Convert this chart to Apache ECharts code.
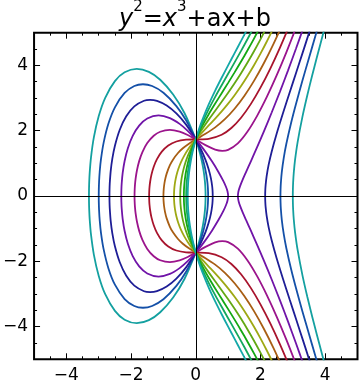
<!DOCTYPE html>
<html>
<head>
<meta charset="utf-8">
<script src="https://cdn.jsdelivr.net/npm/echarts@6/dist/echarts.min.js"></script>
<style>html,body{margin:0;padding:0;background:#fff}#c{width:360px;height:388px}</style>
</head>
<body>
<div id="c"></div>
<script>
// parameter a for each curve (b = 3)
const aValues = [-10, -8, -6, -4, -2, 0, 2, 4, 6, 8, 10, 12];
const curveColors = ['#14A0A0', '#1450A8', '#1E1E96', '#7014A8', '#9B148C', '#A8142D',
                     '#A85E14', '#9EA814', '#63A814', '#14A814', '#14A85E', '#14A8A8'];
const xTickLabels = [-4, -2, 0, 2, 4];
const yTickLabels = [-4, -2, 0, 2, 4];

// upper halves (y >= 0); curves are symmetric about y = 0
const ovalAm10 = [[-3.3028,0],[-3.301,0.202],[-3.295,0.42],[-3.28,0.716],[-3.24,1.178],[-3.15,1.801],[-3.0,2.449],[-2.8,3.008],[-2.5,3.518],[-2.2,3.788],[-1.826,3.895],[-1.45,3.801],[-1.1,3.559],[-0.7,3.108],[-0.35,2.541],[0,1.732],[0.08,1.483],[0.16,1.185],[0.22,0.9],[0.26,0.646],[0.285,0.416],[0.298,0.216],[0.3028,0]];
const rightAm10 = [[3,0],[3.002,0.184],[3.01,0.413],[3.03,0.72],[3.07,1.111],[3.15,1.66],[3.3,2.437],[3.45,3.092],[3.6,3.695],[3.75,4.27],[3.9,4.829],[4.0,5.196]];
const ovalAm8 = [[-3,0],[-2.998,0.195],[-2.99,0.435],[-2.97,0.75],[-2.93,1.134],[-2.85,1.628],[-2.7,2.217],[-2.5,2.716],[-2.2,3.155],[-1.9,3.368],[-1.633,3.422],[-1.35,3.367],[-1.0,3.162],[-0.6,2.754],[-0.3,2.318],[0,1.732],[0.1,1.484],[0.2,1.187],[0.28,0.884],[0.33,0.629],[0.36,0.408],[0.375,0.23],[0.382,0]];
const rightAm8 = [[2.618,0],[2.621,0.194],[2.63,0.39],[2.66,0.736],[2.72,1.168],[2.8,1.598],[2.95,2.252],[3.1,2.827],[3.3,3.541],[3.5,4.228],[3.7,4.904],[3.8,5.241]];
const ovalAm6 = [[-2.6691,0],[-2.667,0.18],[-2.66,0.373],[-2.63,0.767],[-2.58,1.143],[-2.5,1.541],[-2.35,2.03],[-2.15,2.442],[-1.9,2.746],[-1.6,2.916],[-1.414,2.942],[-1.2,2.911],[-0.9,2.77],[-0.6,2.527],[-0.3,2.185],[0,1.732],[0.15,1.45],[0.3,1.108],[0.4,0.815],[0.47,0.533],[0.505,0.314],[0.519,0.161],[0.524,0]];
const rightAm6 = [[2.1451,0],[2.149,0.174],[2.16,0.343],[2.19,0.603],[2.25,0.944],[2.35,1.37],[2.5,1.904],[2.7,2.546],[2.9,3.161],[3.1,3.767],[3.3,4.375],[3.5,4.988],[3.6,5.297]];
const ovalAm4 = [[-2.3028,0],[-2.3,0.183],[-2.29,0.389],[-2.26,0.705],[-2.2,1.073],[-2.1,1.463],[-1.95,1.84],[-1.75,2.154],[-1.5,2.372],[-1.15,2.466],[-0.8,2.385],[-0.5,2.208],[-0.25,1.996],[0,1.732],[0.25,1.42],[0.5,1.061],[0.7,0.737],[0.85,0.463],[0.93,0.291],[0.98,0.146],[1.0,0]];
const rightAm4 = [[1.3028,0],[1.31,0.09],[1.33,0.181],[1.37,0.302],[1.45,0.499],[1.55,0.724],[1.7,1.055],[1.9,1.503],[2.1,1.965],[2.35,2.565],[2.6,3.19],[2.85,3.84],[3.1,4.516],[3.35,5.215]];
const branchAm2 = [[-1.8933,0],[-1.89,0.17],[-1.88,0.34],[-1.86,0.534],[-1.82,0.782],[-1.75,1.068],[-1.65,1.345],[-1.5,1.62],[-1.3,1.845],[-1.1,1.967],[-0.8,2.022],[-0.5,1.969],[-0.25,1.867],[0,1.732],[0.3,1.558],[0.6,1.42],[0.82,1.383],[1.0,1.414],[1.3,1.612],[1.6,1.974],[1.9,2.462],[2.2,3.041],[2.5,3.691],[2.8,4.399],[3.1,5.157]];
const branchA0 = [[-1.4422,0],[-1.438,0.162],[-1.43,0.275],[-1.41,0.444],[-1.37,0.655],[-1.3,0.896],[-1.2,1.128],[-1.05,1.357],[-0.85,1.545],[-0.6,1.669],[-0.3,1.724],[0,1.732],[0.4,1.75],[0.8,1.874],[1.1,2.081],[1.4,2.397],[1.7,2.813],[2.0,3.317],[2.3,3.894],[2.6,4.536],[2.9,5.233]];
const branchA2 = [[-1,0],[-0.995,0.158],[-0.98,0.314],[-0.95,0.493],[-0.9,0.686],[-0.8,0.942],[-0.7,1.121],[-0.55,1.317],[-0.4,1.462],[-0.2,1.61],[0,1.732],[0.3,1.904],[0.6,2.101],[0.9,2.351],[1.2,2.67],[1.5,3.062],[1.8,3.526],[2.1,4.057],[2.4,4.65],[2.7,5.299]];
const branchA4 = [[-0.6736,0],[-0.67,0.139],[-0.66,0.269],[-0.64,0.422],[-0.6,0.62],[-0.54,0.826],[-0.46,1.031],[-0.36,1.23],[-0.24,1.423],[-0.12,1.587],[0,1.732],[0.2,1.951],[0.4,2.16],[0.6,2.37],[0.8,2.591],[1.0,2.828],[1.2,3.087],[1.4,3.368],[1.6,3.674],[1.8,4.004],[2.0,4.359],[2.2,4.738],[2.4,5.14]];
const branchA6 = [[-0.4814,0],[-0.478,0.151],[-0.47,0.276],[-0.45,0.457],[-0.42,0.637],[-0.38,0.816],[-0.32,1.023],[-0.24,1.243],[-0.14,1.469],[-0.07,1.606],[0,1.732],[0.1,1.898],[0.2,2.051],[0.4,2.338],[0.6,2.611],[0.8,2.883],[1.0,3.162],[1.2,3.454],[1.4,3.761],[1.6,4.086],[1.8,4.431],[2.0,4.796],[2.2,5.182]];
const branchA8 = [[-0.3687,0],[-0.365,0.177],[-0.36,0.271],[-0.35,0.396],[-0.33,0.569],[-0.3,0.757],[-0.25,0.992],[-0.18,1.247],[-0.1,1.483],[0,1.732],[0.1,1.95],[0.2,2.147],[0.4,2.503],[0.6,2.831],[0.8,3.148],[1.0,3.464],[1.2,3.785],[1.4,4.116],[1.6,4.461],[1.8,4.82],[2.0,5.196]];
const branchA10 = [[-0.2974,0],[-0.295,0.156],[-0.29,0.275],[-0.28,0.422],[-0.26,0.618],[-0.23,0.829],[-0.18,1.093],[-0.1,1.414],[-0.05,1.581],[0,1.732],[0.1,2.0],[0.2,2.238],[0.4,2.658],[0.6,3.036],[0.8,3.393],[1.0,3.742],[1.2,4.09],[1.4,4.443],[1.6,4.806],[1.8,5.18]];
const branchA12 = [[-0.2487,0],[-0.245,0.213],[-0.24,0.326],[-0.23,0.477],[-0.2,0.769],[-0.15,1.094],[-0.1,1.341],[-0.05,1.549],[0,1.732],[0.1,2.05],[0.2,2.325],[0.4,2.804],[0.6,3.227],[0.8,3.621],[1.0,4.0],[1.2,4.374],[1.4,4.748],[1.6,5.128]];

// mirror helpers (symmetry about the x axis)
function closeLoop(upper) {
  const lower = upper.slice(0, -1).reverse().map(p => [p[0], -p[1]]);
  return upper.concat(lower);
}
function openBranch(upper) {
  const lower = upper.slice(1).reverse().map(p => [p[0], -p[1]]);
  return lower.concat(upper);
}

const parts = [
  [0, closeLoop(ovalAm10)], [0, openBranch(rightAm10)],
  [1, closeLoop(ovalAm8)], [1, openBranch(rightAm8)],
  [2, closeLoop(ovalAm6)], [2, openBranch(rightAm6)],
  [3, closeLoop(ovalAm4)], [3, openBranch(rightAm4)],
  [4, openBranch(branchAm2)],
  [5, openBranch(branchA0)],
  [6, openBranch(branchA2)],
  [7, openBranch(branchA4)],
  [8, openBranch(branchA6)],
  [9, openBranch(branchA8)],
  [10, openBranch(branchA10)],
  [11, openBranch(branchA12)]
];

const FONT = 'DejaVu Sans';
const minus = v => String(v).replace('-', '\u2212');
const tickLine = {color: '#000', width: 1};

function makeAxis(pos, major, showLabels) {
  const ax = {
    type: 'value', min: -5, max: 5, position: pos,
    axisLine: {show: false, onZero: false},
    splitLine: {show: false},
    axisTick: {show: true, inside: true, length: major ? 6 : 3, lineStyle: tickLine},
    axisLabel: {show: false}
  };
  if (major) {
    ax.axisTick.customValues = pos === 'bottom' || pos === 'top' ? xTickLabels : yTickLabels;
    if (showLabels) {
      ax.axisLabel = {
        show: true,
        customValues: pos === 'bottom' ? xTickLabels : yTickLabels,
        formatter: minus, color: '#000', fontSize: 17, fontFamily: FONT,
        margin: pos === 'bottom' ? 8 : 6
      };
    }
  } else {
    ax.interval = 0.5;
  }
  return ax;
}

const series = parts.map((p, i) => {
  const s = {
    type: 'line', data: p[1], xAxisIndex: 0, yAxisIndex: 0,
    symbol: 'none', showSymbol: false, smooth: 0.3, clip: true,
    lineStyle: {color: curveColors[p[0]], width: 1.8},
    itemStyle: {color: curveColors[p[0]]},
    silent: true, animation: false, z: 3
  };
  if (i === 0) {
    s.markLine = {
      silent: true, symbol: 'none', label: {show: false},
      lineStyle: {color: '#000', width: 1, type: 'solid'},
      data: [{xAxis: 0}, {yAxis: 0}], animation: false
    };
  }
  return s;
});

const chart = echarts.init(document.getElementById('c'), null, {renderer: 'canvas'});
chart.setOption({
  backgroundColor: '#fff',
  animation: false,
  title: {
    text: '{i|y}{s|2}{n|=}{i|x}{s|3}{n|+ax+b}',
    left: 119, top: 0, padding: 0,
    textStyle: {
      fontWeight: 'normal',
      rich: {
        n: {fontSize: 24, fontFamily: FONT, fontWeight: 'normal', color: '#000', lineHeight: 32, verticalAlign: 'bottom'},
        i: {fontSize: 24, fontFamily: FONT, fontWeight: 'normal', fontStyle: 'italic', color: '#000', lineHeight: 32, verticalAlign: 'bottom'},
        s: {fontSize: 15, fontFamily: FONT, fontWeight: 'normal', color: '#000', lineHeight: 18, verticalAlign: 'top'}
      }
    }
  },
  grid: {left: 32.5, right: 2.5, top: 32.7, bottom: 28.7, show: true, borderColor: '#000', borderWidth: 2, backgroundColor: 'transparent'},
  xAxis: [makeAxis('bottom', false), makeAxis('bottom', true, true), makeAxis('top', false), makeAxis('top', true, false)],
  yAxis: [makeAxis('left', false), makeAxis('left', true, true), makeAxis('right', false), makeAxis('right', true, false)],
  series: series
});
</script>
</body>
</html>
